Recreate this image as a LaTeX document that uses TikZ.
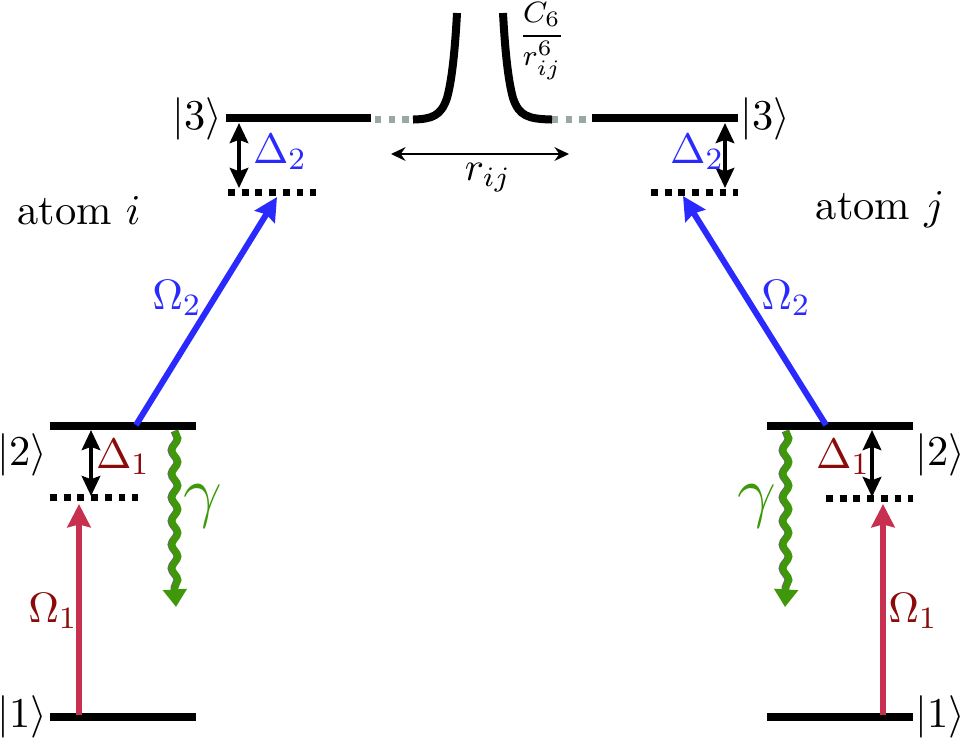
\documentclass[tikz,border=0pt]{standalone}
\usepackage{amsmath}
\usepackage{amssymb}
\usepackage[dvipsnames]{xcolor}
\usetikzlibrary{arrows.meta,decorations.pathmorphing}
\definecolor{probered}{RGB}{200,48,80}
\definecolor{labelred}{RGB}{139,10,10}
\definecolor{coupleblue}{RGB}{42,42,255}
\definecolor{decaygreen}{RGB}{62,152,10}
\definecolor{vdwgray}{RGB}{154,168,163}

\begin{document}
\begin{tikzpicture}[x=0.25pt,y=0.25pt,yscale=-1,xscale=1,
    level/.style={line width=1.9pt},
    virtual/.style={line width=1.75pt,dash pattern=on 1.7pt off 1.73pt},
    vdwdash/.style={line width=1.6pt,color=vdwgray,dash pattern=on 1.6pt off 1.83pt},
    vdwcurve/.style={line width=2pt},
    detuning/.style={line width=1pt,{Stealth[length=5pt,width=4.6pt,inset=0.8pt]}-{Stealth[length=5pt,width=4.6pt,inset=0.8pt]}},
    probe/.style={line width=1.5pt,color=probered,-{Stealth[length=5.8pt,width=5.8pt,inset=0.7pt]}},
    couple/.style={line width=1.5pt,color=coupleblue,-{Stealth[length=5.8pt,width=5.8pt,inset=0.7pt]}},
    decay/.style={line width=1.7pt,color=decaygreen,decorate,decoration={snake,amplitude=0.75pt,segment length=5.9pt,post length=0.5pt}},
    decayshadow/.style={decay,color=black!60,transform canvas={xshift=-0.25pt}},
    decayhead/.style={line width=1.7pt,color=decaygreen,-{Triangle[length=4.4pt,width=5.8pt]}},
    lbl/.style={inner sep=0pt,scale=0.97,font=\fontsize{10.95}{13}\selectfont}]
\useasboundingbox (0,0) rectangle (962,744);
% atom i
\coordinate (g1a) at (50,717); \coordinate (g1b) at (196,717);
\coordinate (e2a) at (50,426); \coordinate (e2b) at (196,426);
\coordinate (v2a) at (50,497); \coordinate (v2b) at (138,497);
\coordinate (r3a) at (226,118); \coordinate (r3b) at (371,118);
\coordinate (v3a) at (228,192); \coordinate (v3b) at (316,192);
\draw [level] (g1a) -- (g1b);
\draw [level] (e2a) -- (e2b);
\draw [level] (r3a) -- (r3b);
\draw [virtual] (v2a) -- (v2b);
\draw [virtual] (v3a) -- (v3b);
% atom j
\coordinate (G1a) at (767,717); \coordinate (G1b) at (913,717);
\coordinate (E2a) at (767,426); \coordinate (E2b) at (913,426);
\coordinate (V2a) at (913,498); \coordinate (V2b) at (826,498);
\coordinate (R3a) at (738,118); \coordinate (R3b) at (592,118);
\coordinate (V3a) at (738,192); \coordinate (V3b) at (651,192);
\draw [level] (G1a) -- (G1b);
\draw [level] (E2a) -- (E2b);
\draw [level] (R3a) -- (R3b);
\draw [virtual] (V2b) -- (V2a);
\draw [virtual] (V3b) -- (V3a);
% interaction
\coordinate (da) at (375,119.5); \coordinate (db) at (413,119.5);
\coordinate (Da) at (552,119.5); \coordinate (Db) at (590,119.5);
\coordinate (ca) at (457,13); \coordinate (cb) at (503,13);
\draw [vdwdash] (da) -- (db);
\draw [vdwdash] (Da) -- (Db);
\draw [vdwcurve] (db) .. controls (432,119) and (441,116) .. (447,98) .. controls (452,80) and (455,50) .. (ca);
\draw [vdwcurve] (Da) .. controls (528,119) and (519,116) .. (513,98) .. controls (508,80) and (505,50) .. (cb);
\coordinate (sa) at (391,154); \coordinate (sb) at (569,154);
\draw [line width=0.65pt,{Stealth[length=3.6pt,width=3.4pt]}-{Stealth[length=3.6pt,width=3.4pt]}] (sa) -- (sb);
% detunings
\coordinate (d2t) at (239,123); \coordinate (d2b) at (239,188);
\coordinate (D2t) at (725,123); \coordinate (D2b) at (725,188);
\coordinate (d1t) at (91,430); \coordinate (d1b) at (91,496);
\coordinate (D1t) at (872,430); \coordinate (D1b) at (872,497);
\draw [detuning] (d2t) -- (d2b);
\draw [detuning] (D2t) -- (D2b);
\draw [detuning] (d1t) -- (d1b);
\draw [detuning] (D1t) -- (D1b);
% lasers
\coordinate (p1a) at (79,715); \coordinate (p1b) at (79,504);
\coordinate (P1a) at (883,715); \coordinate (P1b) at (883,504);
\coordinate (p2a) at (136,425); \coordinate (p2b) at (277,197);
\coordinate (P2a) at (826,425); \coordinate (P2b) at (683,196);
\draw [probe] (p1a) -- (p1b);
\draw [probe] (P1a) -- (P1b);
\draw [couple] (p2a) -- (p2b);
\draw [couple] (P2a) -- (P2b);
% decay
\coordinate (w1a) at (175,431); \coordinate (w1b) at (175,591); \coordinate (w1c) at (176,607);
\coordinate (W1a) at (786,431); \coordinate (W1b) at (786,591); \coordinate (W1c) at (785,607);
\draw [decayshadow] (w1a) -- (w1b);
\draw [decayshadow] (W1a) -- (W1b);
\draw [decay] (w1a) -- (w1b);
\draw [decay] (W1a) -- (W1b);
\draw [decayhead] (w1b) -- (w1c);
\draw [decayhead] (W1b) -- (W1c);
% labels
\node [lbl] (k3l) at (197,119) {$|3\rangle$};
\node [lbl] (k3r) at (765,119) {$|3\rangle$};
\node [lbl] (k2l) at (22,455) {$|2\rangle$};
\node [lbl] (k2r) at (940,455) {$|2\rangle$};
\node [lbl] (k1l) at (22,717) {$|1\rangle$};
\node [lbl] (k1r) at (940,717) {$|1\rangle$};
\node [lbl] (atomi) at (79,211) {atom $i$};
\node [lbl] (atomj) at (880,210) {atom $j$};
\node [lbl,color=coupleblue] (dl2l) at (280,152) {$\Delta_2$};
\node [lbl,color=coupleblue] (dl2r) at (697,152) {$\Delta_2$};
\node [lbl,color=labelred] (dl1l) at (123,457) {$\Delta_1$};
\node [lbl,color=labelred] (dl1r) at (843,457) {$\Delta_1$};
\node [lbl,color=labelred] (om1l) at (53,611) {$\Omega_1$};
\node [lbl,color=labelred] (om1r) at (913,611) {$\Omega_1$};
\node [lbl,color=coupleblue] (om2l) at (177,298) {$\Omega_2$};
\node [lbl,color=coupleblue] (om2r) at (786,298) {$\Omega_2$};
\node [inner sep=0pt,color=decaygreen,font=\LARGE] (gaml) at (203,506) {$\gamma$};
\node [inner sep=0pt,color=decaygreen,font=\LARGE] (gamr) at (757,506) {$\gamma$};
\node [inner sep=0pt] (rij) at (488,178) {$r_{ij}$};
\node [inner sep=0pt,scale=0.92,font=\footnotesize] (c6) at (542,41) {$\dfrac{C_6}{r_{ij}^6}$};
\end{tikzpicture}
\end{document}
